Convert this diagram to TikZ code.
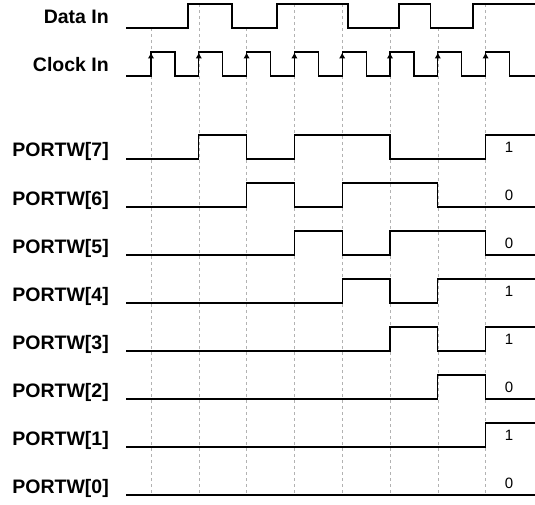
\documentclass[tikz,border=0pt]{standalone}
\usepackage{fontspec}
\setmainfont{Liberation Sans}
\usetikzlibrary{arrows.meta}

\begin{document}
\begin{tikzpicture}[x=1pt, y=-1pt,
        signame/.style={anchor=base east, inner sep=0pt, font=\fontsize{19.5}{22}\selectfont\bfseries},
        bitval/.style={inner sep=0pt, font=\fontsize{15}{17}\selectfont},
        wave/.style={line width=1.2pt, line join=miter},
        edgeline/.style={gray!60, line width=0.6pt, dash pattern=on 3pt off 3pt},
        risemark/.style={-{Latex[length=6pt, width=6.5pt]}, line width=1.2pt}
    ]
        \useasboundingbox (0,0) rectangle (535,505);

        % rising clock edges
        \foreach \x/\y in {151/28, 198.8/4, 246.6/28, 294.4/4, 342.2/4, 390/28, 437.8/28, 485.6/4}
            \draw[edgeline] (\x,\y) -- (\x,495);

        \node[signame] (datain) at (109,23.5) {Data In};
        \node[signame] (clockin) at (109,71.5) {Clock In};
        \foreach \b [count=\i from 0] in {7,6,5,4,3,2,1,0}
            \node[signame] (pw\b) at (109,{157+48*\i}) {PORTW[\b]};

        \foreach \b/\v [count=\i from 0] in {7/1, 6/0, 5/0, 4/1, 3/1, 2/0, 1/1, 0/0}
            \node[bitval] (val\b) at (509,{147+48*\i}) {\v};

        % data in
        \draw[wave] (126,28) -- (188,28) |- (232,4) |- (277,28) |- (348,4) |- (399,28) |- (430.7,4) |- (473,28) |- (535,4);

        % clock in
        \draw[wave] (126,76) -- (151,76) |- (174.9,52) |- (198.8,76) |- (222.7,52) |- (246.6,76) |- (270.5,52) |- (294.4,76) |- (318.3,52) |- (342.2,76) |- (366.1,52) |- (390,76) |- (413.9,52) |- (437.8,76) |- (461.7,52) |- (485.6,76) |- (509.5,52) |- (535,76);
        \foreach \x in {151, 198.8, 246.6, 294.4, 342.2, 390, 437.8, 485.6}
            \draw[risemark] (\x,64) -- (\x,52.5);

        % shift register outputs
        \draw[wave] (126,159) -- (198.8,159) |- (246.6,135) |- (294.4,159) |- (390,135) |- (485.6,159) |- (535,135);
        \draw[wave] (126,207) -- (246.6,207) |- (294.4,183) |- (342.2,207) |- (437.8,183) |- (535,207);
        \draw[wave] (126,255) -- (294.4,255) |- (342.2,231) |- (390,255) |- (485.6,231) |- (535,255);
        \draw[wave] (126,303) -- (342.2,303) |- (390,279) |- (437.8,303) |- (535,279);
        \draw[wave] (126,351) -- (390,351) |- (437.8,327) |- (485.6,351) |- (535,327);
        \draw[wave] (126,399) -- (437.8,399) |- (485.6,375) |- (535,399);
        \draw[wave] (126,447) -- (485.6,447) |- (535,423);
        \draw[wave] (126,495) -- (535,495);
    \end{tikzpicture}
\end{document}
